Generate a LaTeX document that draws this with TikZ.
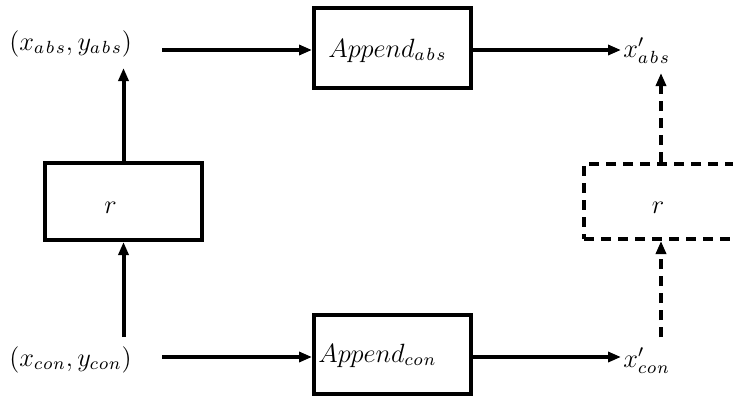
\documentclass[tikz,border=0pt]{standalone}
\usetikzlibrary{arrows.meta}
\newcommand{\sabs}{a\mkern2mu b\mkern2mu s}
\newcommand{\scon}{c\mkern1mu o\mkern1mu n}
\newcommand{\mylbl}[1]{\scalebox{1.1}{$#1$}}
\begin{document}
\begin{tikzpicture}[x=0.5pt,y=-0.5pt,
  font=\fontsize{12}{14}\selectfont,
  box/.style={draw, line width=2pt, inner sep=0pt, minimum width=78.5pt, minimum height=39pt},
  dbox/.style={box, dash pattern=on 5pt off 3.5pt},
  lbl/.style={inner sep=0pt, anchor=base west},
  arr/.style={line width=2pt, -{Triangle[length=6.5pt,width=5pt]}},
  darr/.style={arr, dash pattern=on 5pt off 3.5pt}]
\useasboundingbox (0,0) rectangle (733,396);
% boxes
\node[box, minimum height=40pt] (ap1) at (392.5,48) {};
\node[box, minimum height=39.5pt] (ap2) at (392.5,354.5) {};
\node[box, minimum height=38.5pt] (r1) at (123.5,201.5) {};
\node[dbox, minimum height=37.5pt] (r2) at (662.5,201.5) {};
% texts
\node[lbl] (xa) at (9,50) {\mylbl{(x_{\sabs},y_{\sabs})}};
\node[lbl] (xc) at (9,366) {\mylbl{(x_{\scon},y_{\scon})}};
\node[lbl] (ta1) at (328,57) {\mylbl{Append_{\sabs}}};
\node[lbl] (ta2) at (318,362) {\mylbl{Append_{\scon}}};
\node[lbl] (xpa) at (623,57) {\mylbl{x'_{\sabs}}};
\node[lbl] (xpc) at (623,367) {\mylbl{x'_{\scon}}};
\node[inner sep=0pt, anchor=base] (tr1) at (110.5,213) {\mylbl{r}};
\node[inner sep=0pt, anchor=base] (tr2) at (658,213) {\mylbl{r}};
% connector ends
\coordinate (s1) at (162,50);
\coordinate (e1) at (621,50);
\coordinate (s2) at (162,357);
\coordinate (e2) at (621,357);
\coordinate (c1) at (123.5,68);
\coordinate (c2) at (123.5,337);
\coordinate (c3) at (661,73);
\coordinate (c4) at (661,337);
% connectors
\draw[arr] (s1) -- (s1 -| ap1.west);
\draw[arr] (s1 -| ap1.east) -- (e1);
\draw[arr] (s2) -- (s2 -| ap2.west);
\draw[arr] (s2 -| ap2.east) -- (e2);
\draw[arr] (r1.north) -- (c1);
\draw[arr] (c2) -- (r1.south);
\draw[darr] (r2.north -| c3) -- (c3);
\draw[darr] (c4) -- (r2.south -| c4);
\end{tikzpicture}
\end{document}
